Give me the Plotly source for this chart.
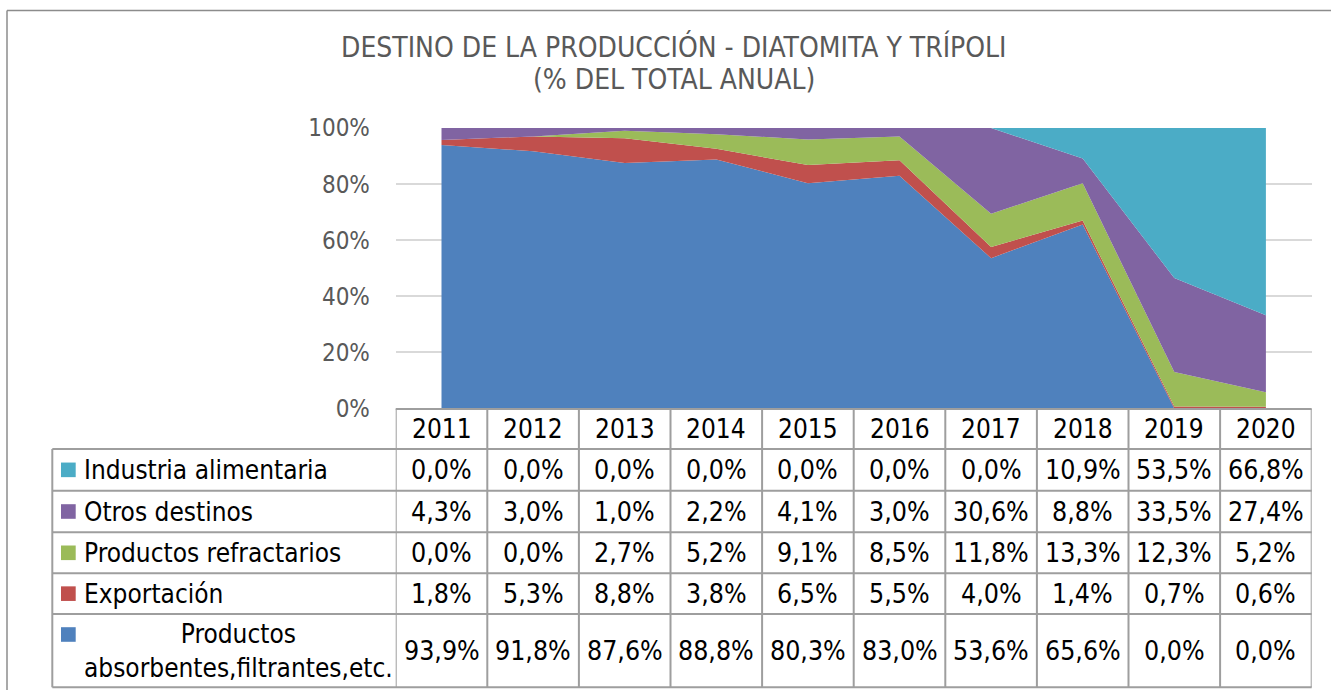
import plotly.graph_objects as go

# ---------------- data ----------------
years = [2011, 2012, 2013, 2014, 2015, 2016, 2017, 2018, 2019, 2020]
series_names = [
    "Productos absorbentes,filtrantes,etc.",
    "Exportación",
    "Productos refractarios",
    "Otros destinos",
    "Industria alimentaria",
]
absorbentes = [93.9, 91.8, 87.6, 88.8, 80.3, 83.0, 53.6, 65.6, 0.0, 0.0]
exportacion = [1.8, 5.3, 8.8, 3.8, 6.5, 5.5, 4.0, 1.4, 0.7, 0.6]
refractarios = [0.0, 0.0, 2.7, 5.2, 9.1, 8.5, 11.8, 13.3, 12.3, 5.2]
otros = [4.3, 3.0, 1.0, 2.2, 4.1, 3.0, 30.6, 8.8, 33.5, 27.4]
alimentaria = [0.0, 0.0, 0.0, 0.0, 0.0, 0.0, 0.0, 10.9, 53.5, 66.8]
y_ticks = [0, 20, 40, 60, 80, 100]
y_tick_labels = ["0%", "20%", "40%", "60%", "80%", "100%"]
title_lines = ["DESTINO DE LA PRODUCCIÓN - DIATOMITA Y TRÍPOLI", "(% DEL TOTAL ANUAL)"]
# table row labels (top to bottom)
table_labels = ["Industria alimentaria", "Otros destinos", "Productos refractarios",
                "Exportación", "Productos<br>absorbentes,filtrantes,etc."]

colors = ["#4F81BD", "#C0504D", "#9BBB59", "#8064A2", "#4BACC6"]
values = [absorbentes, exportacion, refractarios, otros, alimentaria]

# ---------------- layout geometry (pixels) ----------------
W, H = 1331, 690
def px(x):
    return x / W
def py(y):
    return 1 - y / H

plot_left, plot_right = 395.7, 1311.7
y0_pix, y100_pix = 408.5, 128.0
table_top = 409.0
row_edges = [449.0, 490.7, 532.3, 573.3, 614.0, 687.3]
label_left = 52.3

TFONT = "DejaVu Sans Condensed, Liberation Sans, Arial, sans-serif"
fig = go.Figure()
for name, vals, col in zip(series_names, values, colors):
    fig.add_trace(go.Scatter(
        x=years, y=vals, name=name, mode="lines",
        stackgroup="one", groupnorm="percent",
        line=dict(width=0, color=col), fillcolor=col,
        hoverinfo="skip", showlegend=False,
    ))

shapes = []
annotations = []
grid_col = "#9e9e9e"
lw = 2
# header box top
shapes.append(dict(type="line", xref="paper", yref="paper",
                   x0=px(plot_left), x1=px(plot_right), y0=py(table_top), y1=py(table_top),
                   line=dict(color=grid_col, width=lw)))
for ye in row_edges:
    shapes.append(dict(type="line", xref="paper", yref="paper",
                       x0=px(label_left), x1=px(plot_right), y0=py(ye), y1=py(ye),
                       line=dict(color=grid_col, width=lw)))
# vertical lines at column boundaries (data coordinates)
for i, yr in enumerate(years):
    for xb in ([yr - 0.5, yr + 0.5] if i == 0 else [yr + 0.5]):
        shapes.append(dict(type="line", xref="x", yref="paper",
                           x0=xb, x1=xb, y0=py(table_top), y1=py(row_edges[-1]),
                           line=dict(color=grid_col, width=lw)))
shapes.append(dict(type="line", xref="paper", yref="paper",
                   x0=px(label_left), x1=px(label_left), y0=py(row_edges[0]), y1=py(row_edges[-1]),
                   line=dict(color=grid_col, width=lw)))
# outer chart border (top and left edges visible)
shapes.append(dict(type="line", xref="paper", yref="paper",
                   x0=px(7), x1=1, y0=py(10.5), y1=py(10.5),
                   line=dict(color="#8c8c8c", width=1.5)))
shapes.append(dict(type="line", xref="paper", yref="paper",
                   x0=px(7), x1=px(7), y0=py(10.5), y1=0,
                   line=dict(color="#8c8c8c", width=1.5)))

# header year labels
for yr in years:
    annotations.append(dict(x=yr, y=py((table_top + row_edges[0]) / 2), xref="x", yref="paper",
                            text=str(yr), showarrow=False, xanchor="center", yanchor="middle",
                            font=dict(family=TFONT, size=26, color="#000000")))

def fmt(v):
    return f"{v:.1f}".replace(".", ",") + "%"

rows_vals = [alimentaria, otros, refractarios, exportacion, absorbentes]
row_cols = [colors[4], colors[3], colors[2], colors[1], colors[0]]
for r, (lab, vals, col) in enumerate(zip(table_labels, rows_vals, row_cols)):
    top, bot = row_edges[r], row_edges[r + 1]
    yc = (top + bot) / 2
    for yr, v in zip(years, vals):
        annotations.append(dict(x=yr, y=py(yc), xref="x", yref="paper",
                                text=fmt(v), showarrow=False, xanchor="center", yanchor="middle",
                                font=dict(family=TFONT, size=26.5, color="#000000")))
    if r < 4:
        sq_c = yc
        annotations.append(dict(x=px(82), y=py(yc), xref="paper", yref="paper",
                                text=lab, showarrow=False, xanchor="left", yanchor="middle",
                                font=dict(family=TFONT, size=26, color="#000000")))
    else:
        sq_c = 634.5
        annotations.append(dict(x=px(82), y=py(yc), xref="paper", yref="paper",
                                text=lab, showarrow=False, xanchor="left", yanchor="middle",
                                align="center",
                                font=dict(family=TFONT, size=26, color="#000000")))
    shapes.append(dict(type="rect", xref="paper", yref="paper",
                       x0=px(61), x1=px(75.7), y0=py(sq_c - 7.3), y1=py(sq_c + 7.3),
                       fillcolor=col, line=dict(width=0)))

# title
annotations.append(dict(x=px(674), y=py(47), xref="paper", yref="paper",
                        text=title_lines[0], showarrow=False, xanchor="center", yanchor="middle",
                        font=dict(family=TFONT, size=28, color="#595959")))
annotations.append(dict(x=px(674), y=py(80), xref="paper", yref="paper",
                        text=title_lines[1], showarrow=False, xanchor="center", yanchor="middle",
                        font=dict(family=TFONT, size=28, color="#595959")))

fig.update_layout(
    width=W, height=H, autosize=False,
    margin=dict(l=0, r=0, t=0, b=0, pad=0),
    paper_bgcolor="white", plot_bgcolor="white",
    showlegend=False, hovermode=False,
    shapes=shapes, annotations=annotations,
    xaxis=dict(domain=[px(plot_left), px(plot_right)], range=[2010.5, 2020.5],
               showticklabels=False, showgrid=False, zeroline=False, showline=False,
               automargin=False, fixedrange=True),
    yaxis=dict(domain=[py(y0_pix), py(y100_pix)], range=[0, 100],
               tickvals=y_ticks, ticktext=y_tick_labels,
               ticks="outside", ticklen=20, tickcolor="rgba(0,0,0,0)",
               tickfont=dict(family=TFONT, size=24, color="#595959"),
               showgrid=True, gridcolor="#d9d9d9", gridwidth=2,
               zeroline=False, showline=False, automargin=False, fixedrange=True),
)

fig.write_html("out.html", config={"displayModeBar": False, "staticPlot": True},
               post_script="document.body.style.margin='0';document.body.style.overflow='hidden';")
